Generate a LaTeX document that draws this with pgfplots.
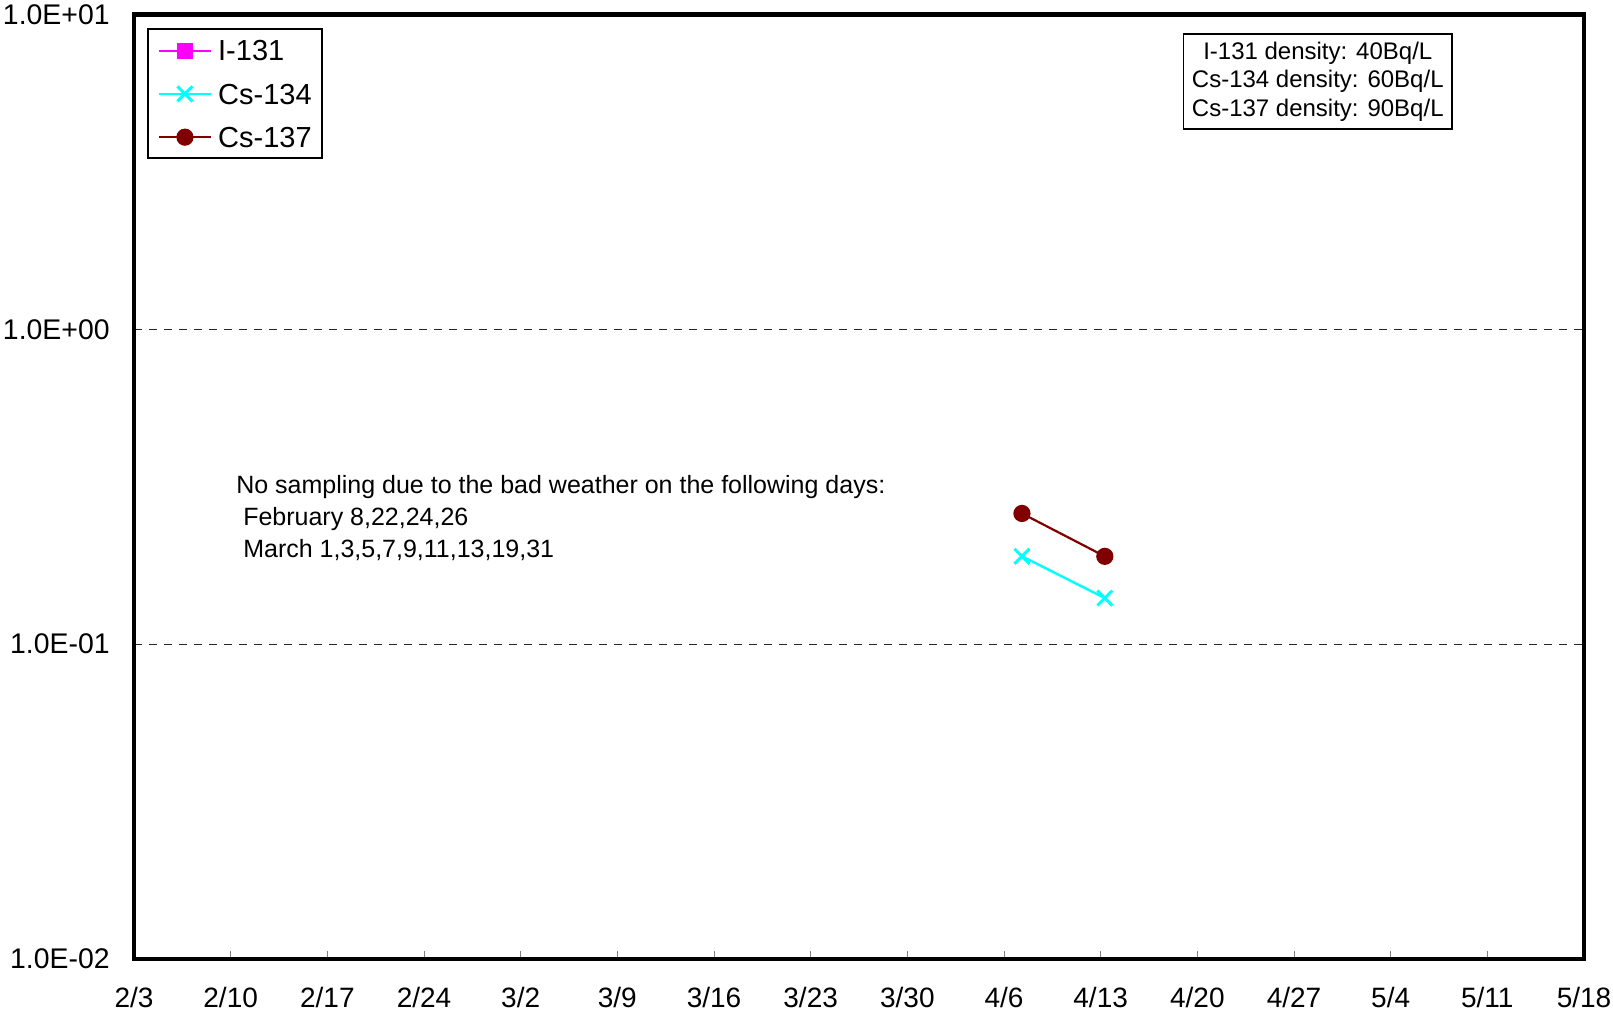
\documentclass[border=0pt]{standalone}
\usepackage{fontspec}
\setmainfont{Liberation Sans}
\usepackage{pgfplots}
\pgfplotsset{compat=1.18}
\definecolor{iodine}{HTML}{FF00FF}
\definecolor{csA}{HTML}{00FFFF}
\definecolor{csB}{HTML}{800000}

\begin{document}
\begin{tikzpicture}
\begin{axis}[
    scale only axis, width=725pt, height=472pt,
    xmin=0, xmax=105,
    ymode=log, ymin=0.01, ymax=10,
    xtick={0,7,...,105},
    xticklabels={2/3,2/10,2/17,2/24,3/2,3/9,3/16,3/23,3/30,4/6,4/13,4/20,4/27,5/4,5/11,5/18},
    ytick={0.1,1},
    yticklabels={1.0E-01,1.0E+00},
    extra y ticks={0.01,10},
    extra y tick labels={1.0E-02,1.0E+01},
    extra y tick style={grid=none},
    xtick pos=bottom, tick align=inside, major tick length=4pt,
    xtick style={black!50, line width=0.5pt},
    ytick style={draw=none},
    axis line style={line width=2.2pt},
    ymajorgrids,
    grid style={dash pattern=on 4pt off 3.5pt, black!85, line width=0.5pt},
    xticklabel style={font=\fontsize{14}{16}\selectfont, anchor=center, yshift=-19.5pt, inner sep=0pt},
    yticklabel style={font=\fontsize{14.2}{16}\selectfont, anchor=east, xshift=-12pt, inner sep=0pt},
    legend style={at={(axis description cs:0.0088,0.9855)}, anchor=north west,
        draw=black, line width=1pt, fill=white,
        font=\fontsize{14.5}{17}\selectfont,
        inner xsep=5pt, inner ysep=5.4pt, row sep=11.25pt, column sep=3pt,
        nodes={inner sep=0pt, text height=10.4pt, text depth=0pt}},
    legend cell align=left,
    legend image code/.code={\draw[mark repeat=2,mark phase=2,#1] plot coordinates {(0pt,0pt)(13pt,0pt)(26pt,0pt)};},
]

\addlegendimage{iodine, line width=1pt, mark=square*, mark size=3.5pt}
\addlegendentry{I-131}

\addplot[csA, line width=1.2pt, mark=x, mark size=5.3pt, mark options={line width=1.5pt}]
coordinates {(64.3,0.19)(70.3,0.14)};
\addlegendentry{Cs-134}

\addplot[csB, line width=1.1pt, mark=*, mark size=3.75pt]
coordinates {(64.3,0.26)(70.3,0.19)};
\addlegendentry{Cs-137}

\node[draw=black, line width=0.75pt, fill=white, align=center,
      font=\fontsize{12}{14.35}\selectfont, inner xsep=4.15pt, inner ysep=3.8pt]
  at (axis description cs:0.8164,0.9292)
  {I-131 density: 40Bq/L\\Cs-134 density: 60Bq/L\\Cs-137 density: 90Bq/L};

\node[anchor=north west, align=left, inner sep=0pt,
      font=\fontsize{12.5}{15.85}\selectfont]
  at (axis description cs:0.0703,0.5119)
  {No sampling due to the bad weather on the following days:\\
   \hspace*{0.278em}February 8,22,24,26\\
   \hspace*{0.278em}March 1,3,5,7,9,11,13,19,31};

\coordinate (O) at (axis description cs:0,0);
\end{axis}
\pgfresetboundingbox
\path (O) ++(-67pt,-29.15pt) rectangle ++(806.5pt,508.5pt);
\end{tikzpicture}
\end{document}
